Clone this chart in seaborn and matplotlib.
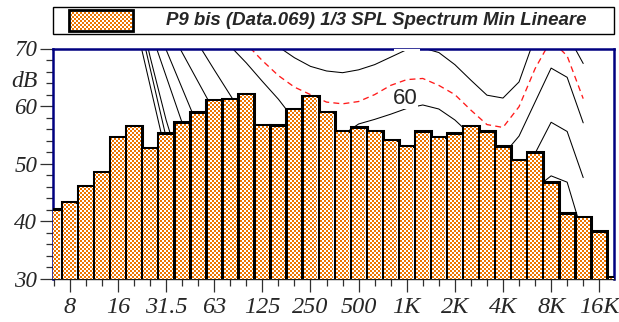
import numpy as np
import pandas as pd
import matplotlib
matplotlib.use("Agg")
import matplotlib.pyplot as plt
from matplotlib.path import Path
from matplotlib.patches import Rectangle
from matplotlib.transforms import IdentityTransform
import seaborn as sns

# ---- data -----------------------------------------------------------------
# 1/3-octave band centres, 6.3 Hz .. 20 kHz
bands = ["6.3", "8", "10", "12.5", "16", "20", "25", "31.5", "40", "50", "63",
         "80", "100", "125", "160", "200", "250", "315", "400", "500", "630",
         "800", "1K", "1.25K", "1.6K", "2K", "2.5K", "3.15K", "4K", "5K",
         "6.3K", "8K", "10K", "12.5K", "16K", "20K"]

# minimum linear SPL per band, dB
spl_min = [42.1, 43.4, 46.2, 48.6, 54.7, 56.6, 52.8, 55.3, 57.2, 58.9, 61.1,
           61.3, 62.1, 56.8, 56.7, 59.5, 61.8, 59.0, 55.7, 56.3, 55.7,
           54.2, 53.1, 55.6, 54.7, 55.3, 56.6, 55.6, 53.0, 50.7,
           52.0, 46.8, 41.4, 40.8, 38.3, 30.4]

major_labels = ["8", "16", "31.5", "63", "125", "250", "500", "1K", "2K",
                "4K", "8K", "16K"]
y_major = [30, 40, 50, 60, 70]

# equal-loudness contours, 20 Hz .. 12.5 kHz (band positions 5 .. 33)
contour_pos = list(range(5, 34))
loud_threshold = [75.6, 63.6, 51.6, 42.5, 35.0, 29.0, 24.0, 19.5, 16.0, 13.0,
                  10.5, 8.5, 7.0, 5.8, 4.9, 4.2, 3.8, 4.0, 5.0, 3.5, 1.0, -1.5,
                  -3.0, -3.0, 1.0, 9.0, 14.5, 15.0, 6.0]
loud_5 = [78.6, 66.6, 54.6, 45.0, 37.5, 31.5, 26.5, 22.0, 18.5, 15.5, 13.0,
          11.0, 9.3, 8.0, 7.0, 6.3, 5.9, 6.0, 7.0, 5.5, 3.0, 0.5, -1.0, -1.0,
          3.0, 11.0, 16.5, 17.0, 8.0]
loud_10 = [80.6, 68.6, 57.6, 48.5, 41.0, 35.0, 30.0, 25.5, 22.0, 19.0, 16.5,
           14.5, 12.8, 11.6, 10.8, 10.2, 9.9, 10.0, 11.0, 9.5, 7.0, 4.5, 3.0,
           3.0, 7.0, 15.0, 20.5, 20.5, 11.0]
loud_20 = [81.4, 73.3, 65.2, 57.1, 50.0, 44.0, 39.0, 34.5, 31.0, 28.0, 25.5,
           23.5, 22.0, 21.0, 20.3, 19.8, 19.6, 20.0, 21.0, 19.5, 17.0, 14.5,
           13.0, 13.0, 17.0, 25.0, 30.0, 29.5, 19.0]
loud_30 = [83.2, 76.5, 69.8, 63.1, 56.4, 50.5, 45.5, 41.5, 38.5, 36.0, 34.0,
           32.5, 31.2, 30.3, 29.6, 29.3, 29.3, 30.0, 31.0, 29.5, 27.0, 24.5,
           23.0, 23.0, 27.0, 35.0, 39.0, 38.0, 28.0]
loud_40 = [84.6, 79.5, 74.4, 69.3, 64.2, 59.1, 54.5, 50.5, 47.5, 45.0, 43.2,
           41.8, 40.6, 39.8, 39.3, 39.2, 39.3, 40.0, 41.0, 39.5, 37.0, 34.5,
           33.0, 33.0, 37.0, 45.7, 47.9, 46.8, 37.5]
loud_50 = [88.4, 84.0, 79.6, 75.2, 70.8, 66.3, 61.9, 57.5, 55.0, 53.0, 51.5,
           50.5, 49.5, 49.0, 48.8, 49.0, 49.2, 50.0, 51.0, 49.5, 47.0, 44.5,
           43.0, 43.0, 46.5, 51.8, 57.2, 55.6, 47.6]
loud_60 = [91.0, 88.0, 85.0, 81.5, 78.0, 74.0, 70.4, 67.5, 64.3, 61.2, 57.6,
           56.6, 55.8, 55.0, 56.9, 57.7, 58.6, 59.6, 60.2, 59.5, 57.6, 55.0,
           52.5, 51.5, 54.8, 60.7, 66.6, 65.0, 57.1]
loud_65 = [95.0, 92.0, 89.0, 86.0, 82.5, 78.5, 74.5, 70.8, 67.9, 65.3, 63.3,
           62.0, 60.7, 60.4, 60.8, 62.0, 63.6, 64.6, 64.8, 63.6, 62.0, 59.3,
           56.8, 56.3, 59.9, 66.5, 71.5, 68.7, 61.3]
loud_70 = [100.0, 97.0, 94.0, 91.0, 87.5, 83.5, 79.5, 75.5, 72.5, 70.3, 68.4,
           66.9, 66.1, 65.8, 66.3, 67.2, 68.5, 69.8, 70.1, 69.3, 67.2, 64.5,
           61.9, 61.4, 64.2, 72.0, 76.0, 72.5, 67.4]

legend_title = "P9 bis (Data.069) 1/3 SPL Spectrum Min Lineare"

# ---- figure ---------------------------------------------------------------
sns.set_style("white")
plt.rcParams["font.family"] = ["Liberation Serif", "DejaVu Serif"]

W, H = 619, 322
fig = plt.figure(figsize=(W / 100, H / 100), dpi=100)
fig.patch.set_facecolor("white")
ax = fig.add_axes([53 / W, 1 - 279 / H, (614 - 53) / W, (279 - 48.5) / H])

black_curves = [loud_threshold, loud_5, loud_10, loud_20, loud_30, loud_40,
                loud_50, loud_60, loud_70]
for vals in black_curves:
    sns.lineplot(x=contour_pos, y=vals, ax=ax, color="black", linewidth=0.75,
                 estimator=None, sort=False, zorder=1.5)
sns.lineplot(x=contour_pos, y=loud_65, ax=ax, color="#ff1a1a", linewidth=0.95,
             linestyle=(0, (4.5, 3.2)), estimator=None, sort=False, zorder=1.6)

df = pd.DataFrame({"band": bands, "level": spl_min})
sns.barplot(data=df, x="band", y="level", order=bands, color="white",
            saturation=1, edgecolor="black", linewidth=2.2, width=1.0,
            errorbar=None, ax=ax, zorder=3)

ax.set_xlim(-0.05, 34.92)
ax.set_ylim(30, 70)
ax.set_xlabel("")
ax.set_ylabel("")

serif_italic = dict(family=["Liberation Serif", "DejaVu Serif"],
                    style="italic")
ax.set_xticks(range(1, 35, 3))
ax.set_xticklabels(major_labels, fontsize=17.5, **serif_italic)
ax.set_xticks(range(0, 35), minor=True)
ax.set_yticks(y_major)
ax.set_yticklabels([str(v) for v in y_major], fontsize=16.5, **serif_italic)
ax.set_yticks(np.arange(30, 71, 2), minor=True)

tick_col = "#303030"
ax.tick_params(axis="both", which="both", direction="out", color=tick_col,
               width=0.9, bottom=True, left=True, top=False, right=False)
ax.tick_params(axis="both", which="major", length=9.6)
ax.tick_params(axis="both", which="minor", length=5.2)
ax.tick_params(axis="x", which="major", pad=3.4)
ax.tick_params(axis="y", which="major", pad=1.8)

ax.text(-0.0276, 63.3, "dB", transform=ax.get_yaxis_transform(),
        ha="right", va="baseline", fontsize=17, **serif_italic)

for side in ["left", "top", "right"]:
    ax.spines[side].set_color("#000080")
    ax.spines[side].set_linewidth(1.8)
ax.spines["bottom"].set_color("#202020")
ax.spines["bottom"].set_linewidth(1.0)

# contour label, with the white box that breaks the line
ax.text(21.9, 61.4, "60", zorder=2, family=["Liberation Sans", "DejaVu Sans"],
        fontsize=16, ha="center", va="center",
        bbox=dict(facecolor="white", edgecolor="none", pad=0.5))
# the 70 contour label lies above the frame; only its box edge shows
ax.add_patch(Rectangle((21.22, 69.55), 1.58, 1.5, facecolor="white",
                       edgecolor="none", zorder=3.5, clip_on=True))

# ---- legend box ----------------------------------------------------------
fig.add_artist(Rectangle((53.3 / W, 1 - 34 / H), 561 / W, 27.3 / H,
                         transform=fig.transFigure, fill=False,
                         edgecolor="black", linewidth=1.0, zorder=2))
sw = (69.3, 10.0, 133.3, 31.0)
fig.add_artist(Rectangle((sw[0] / W, 1 - sw[3] / H), (sw[2] - sw[0]) / W,
                         (sw[3] - sw[1]) / H, transform=fig.transFigure,
                         fill=False, edgecolor="black", linewidth=2.0,
                         zorder=3))
fig.text(165.7 / W, 1 - 25.2 / H, legend_title,
         family=["Liberation Sans", "DejaVu Sans"], fontweight="bold",
         fontstyle="italic", fontsize=13.4, ha="left", va="baseline",
         zorder=3)

# ---- checkered fill for bars and legend swatch --------------------------
yy, xx = np.mgrid[0:H, 0:W]
checker = np.full((H, W, 3), 255, dtype=np.uint8)
mask = ((xx // 2 + yy // 2) % 2) == 0
checker[mask] = (236, 116, 0)

axb = ax.bbox
shrink = 1.4
rects = []
for p in ax.patches:
    if p.get_facecolor()[:3] != (1.0, 1.0, 1.0) or p.get_edgecolor()[3] == 0:
        continue
    x0, y0 = p.get_x(), p.get_y()
    x1, y1 = x0 + p.get_width(), y0 + p.get_height()
    (dx0, dy0), (dx1, dy1) = ax.transData.transform([(x0, y0), (x1, y1)])
    dx0, dx1 = dx0 + shrink, dx1 - shrink
    dy1 = dy1 - shrink
    dx0 = max(dx0, axb.x0)
    dx1 = min(dx1, axb.x1)
    dy0 = max(dy0, axb.y0 + 0.5)
    dy1 = min(dy1, axb.y1)
    if dx1 > dx0 and dy1 > dy0:
        rects.append((dx0, dy0, dx1, dy1))
rects.append((sw[0] + shrink, H - sw[3] + shrink, sw[2] - shrink,
              H - sw[1] - shrink))

verts, codes = [], []
for (a, b, c, d) in rects:
    verts += [(a, b), (c, b), (c, d), (a, d), (a, b)]
    codes += [Path.MOVETO, Path.LINETO, Path.LINETO, Path.LINETO,
              Path.CLOSEPOLY]
fill_path = Path(verts, codes)

img = fig.figimage(checker, xo=0, yo=0, origin="upper", zorder=1)
img.set_clip_path(fill_path, IdentityTransform())

fig.savefig("out.png", dpi=100)
